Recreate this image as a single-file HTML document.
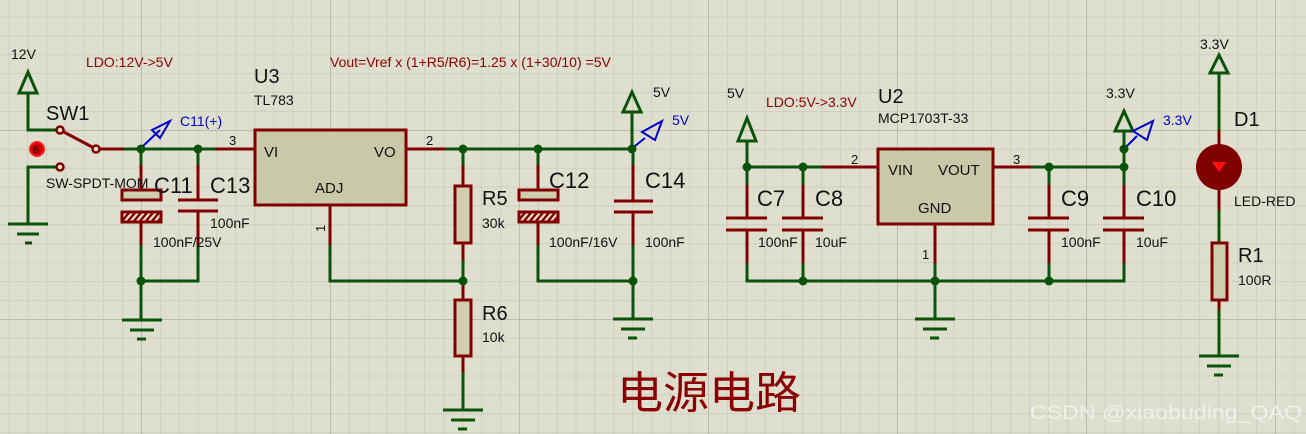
<!DOCTYPE html>
<html><head><meta charset="utf-8"><style>
html,body{margin:0;padding:0;background:#dfdfcf;}
svg{display:block;font-family:"Liberation Sans","Noto Sans CJK SC",sans-serif;}
</style></head><body>
<svg width="1306" height="434" viewBox="0 0 1306 434" xmlns="http://www.w3.org/2000/svg">
<defs>
<pattern id="g" x="8.7" y="16.6" width="18.9" height="18.9" patternUnits="userSpaceOnUse">
<path d="M0 0H18.9M0 0V18.9" stroke="#c6c6b6" stroke-width="1.2" fill="none"/>
</pattern>
<pattern id="G" x="330" y="130" width="189" height="189" patternUnits="userSpaceOnUse">
<path d="M0 0H189M0 0V189" stroke="#bcbcac" stroke-width="2" fill="none"/>
</pattern>
<pattern id="h" width="6" height="10" patternUnits="userSpaceOnUse" patternTransform="skewX(-40)">
<rect width="6" height="10" fill="#e6dcc8"/><rect width="3" height="10" fill="#800000"/>
</pattern>
</defs>
<rect width="1306" height="434" fill="#dfdfcf"/>
<rect width="1306" height="434" fill="url(#g)"/>
<rect width="1306" height="434" fill="url(#G)"/>

<g stroke="#0b530b" stroke-width="3" fill="none">
<path d="M28 93V130H57"/>
<path d="M57 167H28V224"/>
<path d="M124 149H215"/>
<path d="M141 149V165M141 245V320M141 281H198V245M198 149V165"/>
<path d="M330 245V281H463"/>
<path d="M445 149H632V112"/>
<path d="M463 149V165M463 260V298M463 356V410"/>
<path d="M538 149V165M538 245V281H633V320M633 149V165M633 245V281"/>
<path d="M747 141V167H822M747 167V185M803 167V185M747 263V281H1124V263M803 263V281M935 263V319M1049 263V281"/>
<path d="M1031 167H1124V131M1049 167V185M1124 167V185"/>
<path d="M1219 73V130M1219 210V243M1219 300V356"/>
</g>
<g stroke="#0b530b" stroke-width="3">
<path d="M8 224H48M17 234H39M25 243H32"/>
<path d="M122 320H162M130 330H154M137 339H146"/>
<path d="M443 410H483M451 420H475M458 429H467"/>
<path d="M613 319H653M621 329H645M628 338H637"/>
<path d="M915 319H955M923 329H947M930 338H939"/>
<path d="M1199 356H1239M1207 366H1231M1214 375H1223"/>
</g>
<g stroke="#0b530b" stroke-width="3" fill="none">
<path d="M28 72L19 93H37Z"/>
<path d="M632 92L623 112H641Z"/>
<path d="M747 118L738 141H756Z"/>
<path d="M1124 111L1115 131H1133Z"/>
<path d="M1219 55L1210 73H1228Z"/>
</g>
<g stroke="#800000" stroke-width="3" fill="none">
<path d="M96 149H124M60 130L96 149"/>
<path d="M141 165V190M141 222V245M198 165V200M198 211V245M178 200H218M178 211H218"/>
<path d="M215 149H255M406 149H445M330 205V245"/>
<path d="M463 165V186M463 243V260M463 281V300M463 356V372"/>
<path d="M538 165V190M538 222V245M633 165V201M633 212V245M614 201H653M614 212H653"/>
<path d="M822 167H878M993 167H1031M935 224V263"/>
<path d="M747 185V218M747 230V263M726 218H767M726 230H767"/>
<path d="M803 185V218M803 230V263M782 218H823M782 230H823"/>
<path d="M1049 185V218M1049 230V263M1028 218H1069M1028 230H1069"/>
<path d="M1124 185V218M1124 230V263M1103 218H1144M1103 230H1144"/>
<path d="M1219 130V150M1219 185V210M1219 243V245M1219 300V310"/>
</g>
<g stroke="#800000" stroke-width="2.5" fill="#dfdfcf">
<circle cx="60" cy="130" r="3.5"/><circle cx="96" cy="149" r="3.5"/><circle cx="60" cy="167" r="3.5"/>
</g>
<circle cx="37" cy="149" r="7" fill="#cc0000" stroke="#ff2020" stroke-width="2"/>
<text x="33" y="153" font-size="9" fill="#300">B</text>
<rect x="122" y="190" width="39" height="10" fill="#cfcfaf" stroke="#800000" stroke-width="3"/>
<rect x="122" y="212" width="39" height="10" fill="url(#h)" stroke="#800000" stroke-width="3"/>
<rect x="519" y="190" width="39" height="10" fill="#cfcfaf" stroke="#800000" stroke-width="3"/>
<rect x="519" y="212" width="39" height="10" fill="url(#h)" stroke="#800000" stroke-width="3"/>
<rect x="455" y="186" width="16" height="57" fill="#cfcfaf" stroke="#800000" stroke-width="3"/>
<rect x="455" y="300" width="16" height="56" fill="#cfcfaf" stroke="#800000" stroke-width="3"/>
<rect x="1212" y="243" width="15" height="57" fill="#cfcfaf" stroke="#800000" stroke-width="3"/>
<rect x="255" y="130" width="151" height="75" fill="#c9c9a9" stroke="#800000" stroke-width="3"/>
<rect x="878" y="149" width="115" height="75" fill="#c9c9a9" stroke="#800000" stroke-width="3"/>
<circle cx="1219" cy="167" r="23" fill="#800000"/>
<path d="M1212 162H1226L1219 172Z" fill="#ff1010"/>
<g fill="#0b530b">
<circle cx="141" cy="149" r="4.5"/><circle cx="198" cy="149" r="4.5"/><circle cx="141" cy="281" r="4.5"/>
<circle cx="463" cy="149" r="4.5"/><circle cx="538" cy="149" r="4.5"/><circle cx="632" cy="149" r="4.5"/>
<circle cx="463" cy="281" r="4.5"/><circle cx="633" cy="281" r="4.5"/>
<circle cx="747" cy="167" r="4.5"/><circle cx="803" cy="167" r="4.5"/><circle cx="803" cy="281" r="4.5"/>
<circle cx="935" cy="281" r="4.5"/><circle cx="1049" cy="281" r="4.5"/><circle cx="1049" cy="167" r="4.5"/>
<circle cx="1124" cy="167" r="4.5"/><circle cx="1124" cy="149" r="4.5"/>
</g>
<g stroke="#0000cc" stroke-width="2" fill="none">
<path d="M143 146L160 130M152 130L170 121L160 138Z"/>
<path d="M635 146L645 138M642 132L662 121L655 140Z"/>
<path d="M1127 146L1137 136M1133 131L1153 121L1147 140Z"/>
</g>
<g fill="#0000cc" font-size="14">
<text x="180" y="126">C11(+)</text><text x="672" y="125">5V</text><text x="1163" y="125">3.3V</text>
</g>
<g fill="#111">
<text x="11" y="59" font-size="14">12V</text>
<text x="46" y="120" font-size="20">SW1</text>
<text x="46" y="188" font-size="14">SW-SPDT-MOM</text>
<text x="154" y="193" font-size="22">C11</text>
<text x="210" y="193" font-size="22">C13</text>
<text x="210" y="228" font-size="14">100nF</text>
<text x="153" y="247" font-size="14">100nF/25V</text>
<text x="254" y="83" font-size="20">U3</text>
<text x="254" y="105" font-size="14">TL783</text>
<text x="229" y="145" font-size="13">3</text>
<text x="264" y="157" font-size="15">VI</text>
<text x="374" y="157" font-size="15">VO</text>
<text x="315" y="193" font-size="15">ADJ</text>
<text x="426" y="145" font-size="13">2</text>
<text x="325" y="232" font-size="13" transform="rotate(-90 325 232)">1</text>
<text x="482" y="205" font-size="20">R5</text>
<text x="482" y="228" font-size="14">30k</text>
<text x="482" y="320" font-size="20">R6</text>
<text x="482" y="342" font-size="14">10k</text>
<text x="549" y="188" font-size="22">C12</text>
<text x="549" y="247" font-size="14">100nF/16V</text>
<text x="645" y="188" font-size="22">C14</text>
<text x="645" y="247" font-size="14">100nF</text>
<text x="653" y="97" font-size="14">5V</text>
<text x="727" y="98" font-size="14">5V</text>
<text x="878" y="103" font-size="20">U2</text>
<text x="878" y="123" font-size="14">MCP1703T-33</text>
<text x="851" y="164" font-size="13">2</text>
<text x="1013" y="164" font-size="13">3</text>
<text x="888" y="175" font-size="15">VIN</text>
<text x="938" y="175" font-size="15">VOUT</text>
<text x="918" y="213" font-size="15">GND</text>
<text x="922" y="259" font-size="13">1</text>
<text x="757" y="206" font-size="22">C7</text>
<text x="815" y="206" font-size="22">C8</text>
<text x="758" y="247" font-size="14">100nF</text>
<text x="815" y="247" font-size="14">10uF</text>
<text x="1061" y="206" font-size="22">C9</text>
<text x="1136" y="206" font-size="22">C10</text>
<text x="1061" y="247" font-size="14">100nF</text>
<text x="1136" y="247" font-size="14">10uF</text>
<text x="1106" y="98" font-size="14">3.3V</text>
<text x="1200" y="49" font-size="14">3.3V</text>
<text x="1234" y="126" font-size="20">D1</text>
<text x="1234" y="206" font-size="14">LED-RED</text>
<text x="1238" y="262" font-size="20">R1</text>
<text x="1238" y="285" font-size="14">100R</text>
</g>
<g fill="#8b0000" font-size="14">
<text x="86" y="67">LDO:12V-&gt;5V</text>
<text x="330" y="67">Vout=Vref x (1+R5/R6)=1.25 x (1+30/10) =5V</text>
<text x="766" y="107">LDO:5V-&gt;3.3V</text>
<text x="617" y="408" font-size="44" textLength="184" lengthAdjust="spacingAndGlyphs">电源电路</text>
</g>
<text x="1030" y="419" font-size="19" fill="#f4f4f0" opacity="0.9" textLength="272" lengthAdjust="spacingAndGlyphs">CSDN @xiaobuding_QAQ</text>
</svg>
</body></html>
